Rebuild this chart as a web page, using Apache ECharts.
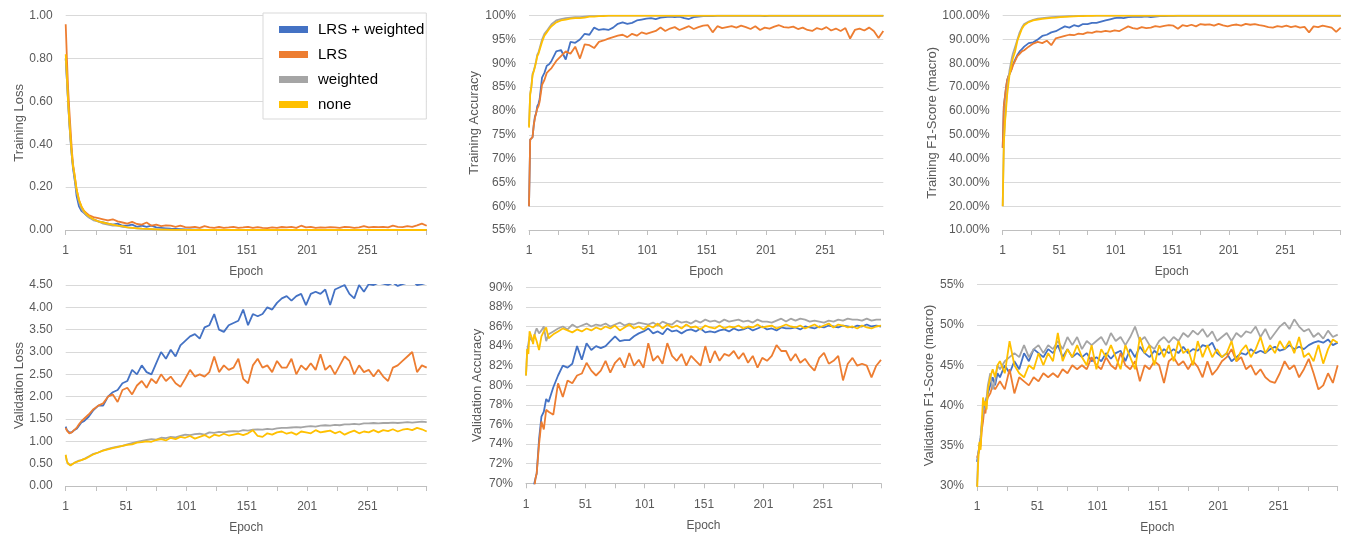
<!DOCTYPE html>
<html><head><meta charset="utf-8">
<script src="https://cdn.jsdelivr.net/npm/echarts@6/dist/echarts.min.js"></script>
<style>html,body{margin:0;padding:0;background:#fff}#c{width:1347px;height:535px}</style>
</head><body><div id="c"></div>
<script>
const epochs = [1,2,3,4,5,6,7,8,9,10,12,14,16,18,20,
 24,28,32,36,40,44,48,52,56,60,
 64,68,72,76,80,84,88,92,96,100,
 104,108,112,116,120,124,128,132,136,140,
 144,148,152,156,160,164,168,172,176,180,
 184,188,192,196,200,204,208,212,216,220,
 224,228,232,236,240,244,248,252,256,260,
 264,268,272,276,280,284,288,292,296,300];

const seriesNames = ['LRS + weighted','LRS','weighted','none'];
const xTickLabels = ['1','51','101','151','201','251'];

// ---- Training Loss ----
const tlLRSW = [0.80,0.70,0.60,0.50,0.42,0.35,0.29,0.25,0.21,0.16,0.11,0.09,0.08,0.07,0.06,
 0.05,0.04,0.035,0.03,0.025,0.03,0.02,0.02,0.025,0.015,
 0.02,0.015,0.02,0.012,0.01,0.008,0.006,0.005,0.004,0.003,
 0.003,0.002,0.002,0.001,0.001,0.001,0.001,0,0,0,
 0,0,0,0,0,0,0,0,0,0, 0,0,0,0,0,0,0,0,0,0, 0,0,0,0,0,0,0,0,0,0, 0,0,0,0,0,0,0,0,0,0];
const tlLRS = [0.96,0.80,0.66,0.56,0.47,0.38,0.31,0.27,0.23,0.19,0.14,0.11,0.09,0.08,0.07,
 0.060,0.055,0.050,0.045,0.050,0.040,0.035,0.030,0.038,0.028,
 0.025,0.035,0.020,0.025,0.018,0.022,0.020,0.015,0.020,0.013,
 0.012,0.015,0.010,0.018,0.012,0.010,0.014,0.010,0.012,0.015,
 0.010,0.012,0.015,0.010,0.013,0.010,0.009,0.012,0.010,0.014,
 0.012,0.015,0.010,0.020,0.012,0.015,0.010,0.012,0.011,0.013,
 0.012,0.010,0.015,0.013,0.010,0.012,0.018,0.012,0.015,0.013,
 0.015,0.012,0.020,0.015,0.013,0.018,0.015,0.022,0.030,0.020];
const tlW = [0.80,0.70,0.59,0.50,0.42,0.35,0.30,0.26,0.22,0.18,0.13,0.10,0.08,0.07,0.06,
 0.045,0.04,0.03,0.025,0.02,0.02,0.015,0.012,0.01,0.008,
 0.006,0.005,0.004,0.003,0.003,0.002,0.002,0.001,0.001,0.001,
 0,0,0,0,0,0,0,0,0,0, 0,0,0,0,0,0,0,0,0,0, 0,0,0,0,0,0,0,0,0,0, 0,0,0,0,0,0,0,0,0,0, 0,0,0,0,0,0,0,0,0,0];
const tlNone = [0.82,0.72,0.60,0.51,0.43,0.36,0.30,0.27,0.23,0.19,0.14,0.11,0.09,0.075,0.065,
 0.05,0.04,0.035,0.03,0.025,0.02,0.018,0.012,0.01,0.008,
 0.006,0.005,0.004,0.003,0.002,0.002,0.001,0.001,0.001,0.001,
 0,0,0,0,0,0,0,0,0,0, 0,0,0,0,0,0,0,0,0,0, 0,0,0,0,0,0,0,0,0,0, 0,0,0,0,0,0,0,0,0,0, 0,0,0,0,0,0,0,0,0,0];

// ---- Training Accuracy (%) ----
const taLRSW = [60,74,73.8,74.5,77,78.8,79.5,81,81.5,82.5,87,88,89.5,89.8,90.5,
 92.5,92.8,90.8,94.5,94.3,95,96.2,96,97.5,97,
 97.2,97,97.5,98.3,98.6,98.3,98.5,99,99.2,99.4,
 99.5,99.3,99.6,99.7,99.8,99.7,99.8,99.5,99.3,99.7,
 99.8,99.9,99.9,99.9,100,100,100,100,100,100,
 100,100,100,100,99.9,100,100,100,100,100,
 100,100,100,100,100,100,100,100,100,100,
 100,100,100,100,100,100,100,100,100,100];
const taLRS = [60,74,73.8,74.5,77,78.5,79.5,80.5,81,82,85.5,86.5,88,88.5,89,
 90.5,91.5,92.5,92,93.5,91,94,93.8,93.2,94.5,
 94.8,95.2,95.5,95.8,96,95.5,96.2,95.8,96.5,96.2,
 96.5,96.8,97.5,96.8,97.3,97.6,97,97.4,97.8,97.2,
 97.6,97.9,98,96.5,97.8,97.4,97.6,97.8,97.5,97.9,
 97.6,97.2,97.8,97.0,97.5,97.3,97.7,98.0,97.6,97.5,
 97.7,97.2,97.5,97.0,96.8,97.4,97.1,97.6,96.9,97.3,
 96.8,97.4,95.2,97.0,97.3,96.9,97.5,96.8,95.3,96.8];
const taW = [76.8,83.6,85.2,87.8,88.5,89.4,90.5,91.8,92.3,92.6,95,96.2,96.8,97.5,98.2,
 99,99.3,99.5,99.6,99.7,99.7,99.8,99.9,99.9,99.9,
 100,100,100,100,100,100,100,100,100,100, 100,100,100,100,100,100,100,100,100,100,
 100,100,100,100,100,100,100,100,100,100, 100,100,100,100,100,100,100,100,100,100,
 100,100,100,100,100,100,100,100,100,100, 100,100,100,100,100,100,100,100,100,100];
const taNone = [76.5,83.5,85,87.5,88.3,89.2,90.3,91.5,92,92.3,94.5,95.8,96.5,97.2,97.8,
 98.6,99,99.2,99.4,99.5,99.5,99.6,99.8,99.8,99.9,
 99.9,100,100,100,100,100,100,100,100,100, 100,100,100,100,100,100,100,100,100,100,
 100,100,100,100,100,100,100,100,100,100, 100,100,100,100,100,100,100,100,100,100,
 100,100,100,100,100,100,100,100,100,100, 100,100,100,100,100,100,100,100,100,100];

// ---- Training F1 (macro, %) ----
const tfLRSW = [44.5,62,66,70,73,74.5,75.5,76.5,78,79.5,81.5,83.5,85,86,87,
 88.5,88.8,90,91.5,92,93,93.5,94.5,95.5,95,
 96,95.5,96.5,96.5,97,97,97.5,98,98.5,99,
 99.2,99,99.4,99.5,99.6,99.5,99.7,99.4,99.6,99.8,
 99.8,99.9,99.9,100,100,100,100,100,100,100,
 100,100,100,100,100,100,100,100,100,100, 100,100,100,100,100,100,100,100,100,100,
 100,100,100,100,100,100,100,100,100,100];
const tfLRS = [44.5,62,66,70,73,74.5,75.5,76.5,77.5,79,81,83,84,85,85.5,
 87,88.3,89,88.5,89.5,87.6,90.5,91,91.5,92,
 91.8,92.5,92.3,93,92.8,93.4,93.2,93.6,93.3,93.8,
 93.5,94.5,95.5,94.8,94.5,95.2,94.8,95,95.6,95.3,
 95.7,96,95.8,94.5,96,95.6,96.2,95.5,96.5,96.2,
 96.4,95.8,96.6,95.9,95.5,96,96.3,95.8,96.6,96.2,
 96.5,96,95.7,95.2,95,95.6,95.3,95.8,95.2,95.6,
 95,95.3,93,95.5,95.2,95.8,95.4,95,93.2,95];
const tfW = [20,47,56,63,69,73,77,79.5,82,84,87,90,93,95,96.5,
 97.5,98.3,98.8,99,99.2,99.4,99.5,99.6,99.7,99.8,
 99.8,99.9,100,100,100,100,100,100,100,100, 100,100,100,100,100,100,100,100,100,100,
 100,100,100,100,100,100,100,100,100,100, 100,100,100,100,100,100,100,100,100,100,
 100,100,100,100,100,100,100,100,100,100, 100,100,100,100,100,100,100,100,100,100];
const tfNone = [20,46,55,61,67,71,75,77.5,80,82,85,89.5,92,94.5,96,
 97.3,98,98.4,98.7,98.9,99.1,99.2,99.4,99.5,99.6,
 99.7,99.8,99.8,99.9,99.9,100,100,100,100,100, 100,100,100,100,100,100,100,100,100,100,
 100,100,100,100,100,100,100,100,100,100, 100,100,100,100,100,100,100,100,100,100,
 100,100,100,100,100,100,100,100,100,100, 100,100,100,100,100,100,100,100,100,100];

// ---- Validation Loss ----
const vlLRSW = [1.33,1.25,1.22,1.2,1.17,1.2,1.22,1.25,1.27,1.28,1.35,1.42,1.45,1.5,1.55,
 1.7,1.8,1.8,2.0,2.1,2.15,2.3,2.35,2.6,2.5,
 2.7,2.55,2.5,2.75,3.0,2.85,3.05,2.9,3.15,3.25,
 3.35,3.4,3.3,3.55,3.6,3.85,3.5,3.45,3.6,3.65,
 3.7,3.95,3.6,3.85,3.8,3.85,4.0,3.95,4.1,4.2,
 4.25,4.15,4.25,4.3,4.05,4.3,4.35,4.3,4.4,4.05,
 4.4,4.45,4.5,4.3,4.2,4.5,4.35,4.52,4.5,4.55,
 4.53,4.5,4.55,4.48,4.52,4.55,4.6,4.5,4.52,4.55];
const vlLRS = [1.3,1.24,1.2,1.18,1.17,1.2,1.22,1.25,1.28,1.3,1.38,1.45,1.5,1.55,1.6,
 1.72,1.8,1.85,2.0,2.05,1.88,2.15,2.2,2.05,2.25,
 2.35,2.2,2.4,2.3,2.5,2.35,2.45,2.3,2.22,2.4,
 2.6,2.45,2.5,2.45,2.55,2.9,2.55,2.7,2.6,2.65,
 2.85,2.4,2.3,2.7,2.85,2.65,2.7,2.55,2.8,2.65,
 2.65,2.85,2.5,2.7,2.6,2.75,2.6,2.95,2.6,2.7,
 2.5,2.7,2.9,2.8,2.5,2.7,2.55,2.6,2.45,2.6,
 2.45,2.35,2.65,2.7,2.8,2.9,3.0,2.55,2.7,2.65];
const vlW = [0.68,0.55,0.5,0.48,0.47,0.48,0.5,0.52,0.53,0.55,0.57,0.58,0.6,0.63,0.66,
 0.72,0.75,0.8,0.83,0.86,0.88,0.9,0.93,0.96,0.99,
 1.01,1.03,1.05,1.04,1.08,1.07,1.1,1.09,1.12,1.15,
 1.14,1.16,1.17,1.15,1.2,1.19,1.21,1.2,1.22,1.23,
 1.22,1.25,1.24,1.26,1.27,1.26,1.28,1.27,1.29,1.3,
 1.3,1.31,1.32,1.31,1.33,1.34,1.33,1.35,1.36,1.35,
 1.37,1.36,1.38,1.38,1.39,1.38,1.4,1.4,1.41,1.4,
 1.41,1.41,1.42,1.41,1.42,1.43,1.42,1.43,1.44,1.43];
const vlNone = [0.7,0.55,0.5,0.47,0.46,0.48,0.5,0.51,0.53,0.55,0.56,0.58,0.6,0.62,0.65,
 0.71,0.75,0.79,0.82,0.85,0.87,0.9,0.92,0.93,0.97,
 0.98,1.0,0.99,1.03,1.05,1.02,1.08,1.05,1.1,1.08,
 1.12,1.06,1.1,1.14,1.08,1.15,1.12,1.17,1.13,1.15,
 1.17,1.14,1.18,1.25,1.12,1.1,1.18,1.15,1.2,1.22,
 1.17,1.2,1.15,1.22,1.2,1.18,1.25,1.2,1.22,1.24,
 1.18,1.22,1.15,1.2,1.24,1.18,1.22,1.2,1.25,1.2,
 1.25,1.23,1.27,1.22,1.26,1.28,1.25,1.3,1.27,1.22];

// ---- Validation Accuracy (%) ----
const vaLRSW = [66,66.5,67,67.5,68,68.5,69,70,70.5,71,74.5,76.8,77.3,78.6,78.3,
 79.8,81,82,81.8,82.2,84,82.6,84.3,83.6,84,
 83.8,84,84.5,85,84.5,84.6,84.6,85,85.3,85.5,
 85.8,85.3,85.5,85.2,85.8,85.5,85.6,85.3,85.6,85.7,
 85.5,85.8,85.4,85.5,85.4,85.6,85.7,85.5,85.8,85.6,
 85.7,85.9,85.6,85.8,86,85.7,85.8,85.6,85.9,85.8,
 85.8,85.9,85.7,86,85.9,85.8,86,85.9,86.1,86,
 85.9,86.1,86,85.9,86.1,86,86.2,86,86.1,86];
const vaLRS = [65,65.5,66,66.5,67,67.5,68.5,69.5,70.5,71,74,76.3,75.5,77.5,77.3,
 77,80.2,78.8,80.5,80.2,81,81.2,82.3,81.5,81,
 81.5,82.5,81.3,82.3,82.8,81.8,83.3,82,82.6,81.8,
 84.3,82.5,83,82.2,84.3,83,82.5,83.2,82,83,
 82.5,82,84,82.3,83.5,82.5,83.2,83,83.5,82.7,
 83.3,82.3,83,81.8,82.8,82.5,83,84.1,83.5,83.5,
 82.5,83.2,82.3,82.7,82,81.5,82.8,83.3,82.2,82.5,
 83,80.5,82.2,82.8,82,82.2,82,80.8,82,82.6];
const vaW = [81,83.5,83.5,85,85.2,84.5,84.5,85,85.5,85.8,85.3,85.6,86,84.5,85.2,
 85.5,85.8,86,85.7,86.2,85.9,86.1,86.3,86,86.2,
 86.1,86.3,86,86.2,86.4,86.1,86.3,86.2,86.4,86.3,
 86.2,86.4,86.1,86.5,86.3,86.2,86.6,86.4,86.5,86.3,
 86.6,86.4,86.7,86.5,86.6,86.4,86.7,86.5,86.6,86.7,
 86.5,86.6,86.4,86.7,86.5,86.5,86.4,86.6,86.8,86.5,
 86.8,86.6,86.8,86.7,86.5,86.6,86.5,86.4,86.6,86.5,
 86.7,86.6,86.8,86.7,86.7,86.6,86.8,86.6,86.7,86.7];
const vaNone = [81,83.7,83.2,85.5,85.3,84.8,84.2,85.2,85,84.5,83.6,85,85.5,85.9,84.8,
 85.2,85.5,85.8,85.6,85.4,85.7,85.5,85.8,85.6,85.9,
 85.7,86,85.8,86.1,85.6,85.9,86.2,85.8,86,85.7,
 86.1,85.9,86.3,85.8,86.2,85.9,86.1,85.8,86.2,85.9,
 86,85.7,86.1,85.9,85.8,86.1,85.8,86,85.9,86.1,
 85.8,86,85.9,86.2,85.9,86,86.1,85.8,86,86.2,
 86,85.9,86.1,85.8,86,86.2,85.9,86.1,86.3,85.9,
 86.2,86.1,85.9,86,85.8,86.1,85.9,85.8,86,86.1];

// ---- Validation F1 (macro, %) ----
const vfLRSW = [33,34,35,36,37.5,39,40,40.5,41,41.5,42.5,43.5,42.5,44,43.5,
 45,44,45.5,44.5,46.5,45.5,47,46.5,46,47,
 46.5,47.5,46,47,46,46.5,46,46.5,45.5,46,
 45.5,46.5,45.8,46.5,46.8,45.5,47,46,47.3,46.5,
 46,46.8,46.3,47,46.5,47,46.5,47.3,46.5,47,
 46.8,47.5,47.3,47.8,46.5,46,46.5,45.5,46,46.5,
 46.3,47,46.5,46.8,46.5,47,47.3,46.8,47,47.5,
 47,47.3,47,47.5,47.8,48,47.8,48.2,47.5,47.8];
const vfLRS = [33.5,34,34.5,35,37,38,39.5,39,40.5,41,41.5,42.5,42,42.5,43,
 42,44.5,41.5,43.5,43,42.5,43.5,43,44,43.5,
 44,43.5,44.5,44,45,44.5,45,44.5,46,45,
 44.5,46,45,44.5,46.5,45,44.5,45.5,43,45,
 44.5,45.5,45,42.8,45.5,46,45,45.5,44.5,45.5,
 44.8,43.5,45.5,43.8,44.5,45.5,46,47,45.5,46,
 44.5,45,43.8,44.5,43.5,43,42.8,44,45.5,44.5,
 45,43.5,44.5,45.8,44,42,42.5,44,42.8,45];
const vfW = [30,34,35,36,38,39,40.5,40,41,42.5,44,42,43,45,44.5,
 45.5,46,46.5,46,47.5,46,47,47.5,46.5,47.5,
 47,48,47,48.5,47.5,48.5,47,48,47.5,48,
 48.5,47.5,49,48,48.5,47.5,48.5,49.8,48,48.5,
 47.5,47,48,48.5,47.8,48.5,48,49,48.5,49.3,
 48.8,49.5,48.5,49.2,48,48.5,49,48,49,48.5,
 49.2,49,49.8,48.5,49.5,48.2,49,49.8,50.3,49.5,
 50.7,49.8,49.2,49.5,48.5,49,48.3,49.3,48.5,48.8];
const vfNone = [29,33,35.5,34.5,38,41,40,40.5,39.5,42,43.5,44.5,43.5,45,45.5,
 44,48,45,44,43.5,45,44.5,46.5,45,46.5,
 45.5,49,45.5,47,46,47.5,46,45,47.5,44.5,
 47,46,47.5,46,44.5,47.5,46,44.5,48.5,46.5,
 47.5,45,47.5,46,47.5,45.5,48,46.5,47,45,
 48,46,47.5,46,47,46,46.5,48,45.5,46.8,
 47.5,46,47,48.5,46.5,47.5,46.5,48,47,48,
 46.5,48.5,46,46.5,45.5,47.5,45.2,47,48.2,47.8];

const colors = ['#4472C4','#ED7D31','#A5A5A5','#FFC000'];
const FONT = '"Liberation Sans", Arial, sans-serif';

const panels = [
  {rect:[65.7,15.7,361,214.3], name:'Training Loss', min:0, max:1, step:0.2, fmt:v=>v.toFixed(2), gap:37, data:[tlLRSW,tlLRS,tlW,tlNone]},
  {rect:[529,15.7,354.3,214.3], name:'Training Accuracy', min:55, max:100, step:5, fmt:v=>v+'%', gap:42, data:[taLRSW,taLRS,taW,taNone]},
  {rect:[1002.7,15.7,338,214.3], name:'Training F1-Score (macro)', min:10, max:100, step:10, fmt:v=>v.toFixed(2)+'%', gap:59, data:[tfLRSW,tfLRS,tfW,tfNone]},
  {rect:[65.7,285,361,202.3], name:'Validation Loss', min:0, max:4.5, step:0.5, fmt:v=>v.toFixed(2), gap:37, data:[vlLRSW,vlLRS,vlW,vlNone]},
  {rect:[526,287.3,355,196], name:'Validation Accuracy', min:70, max:90, step:2, fmt:v=>v+'%', gap:42, data:[vaLRSW,vaLRS,vaW,vaNone]},
  {rect:[977,284.7,360.7,203], name:'Validation F1-Score (macro)', min:30, max:55, step:5, fmt:v=>v+'%', gap:37, data:[vfLRSW,vfLRS,vfW,vfNone]}
];

const grid=[], xAxis=[], yAxis=[], series=[];
panels.forEach((p,i)=>{
  grid.push({left:p.rect[0], top:p.rect[1], width:p.rect[2], height:p.rect[3], containLabel:false});
  xAxis.push({type:'value', gridIndex:i, min:0, max:299, interval:25,
    name:'Epoch', nameLocation:'middle', nameGap:36,
    nameTextStyle:{color:'#595959', fontSize:12, fontFamily:FONT},
    axisLine:{show:true, lineStyle:{color:'#bfbfbf', width:1}},
    axisTick:{show:true, length:5, lineStyle:{color:'#bfbfbf'}},
    splitLine:{show:false},
    axisLabel:{color:'#595959', fontSize:12, fontFamily:FONT, margin:15,
      formatter:v=> (v%50===0 && v/50 < xTickLabels.length) ? xTickLabels[v/50] : ''}
  });
  yAxis.push({type:'value', gridIndex:i, min:p.min, max:p.max, interval:p.step,
    name:p.name, nameLocation:'middle', nameGap:p.gap,
    nameTextStyle:{color:'#595959', fontSize:13, fontFamily:FONT},
    axisLine:{show:false}, axisTick:{show:false},
    splitLine:{show:true, lineStyle:{color:'#d9d9d9', width:1}},
    axisLabel:{color:'#595959', fontSize:12, fontFamily:FONT, margin:13, formatter:p.fmt}
  });
  p.data.forEach((vals,k)=>{
    series.push({type:'line', name:seriesNames[k], xAxisIndex:i, yAxisIndex:i,
      data: epochs.map((e,j)=>[e-1, vals[j]]),
      symbol:'none', clip:true,
      lineStyle:{color:colors[k], width:1.8}, itemStyle:{color:colors[k]},
      z:2+k, animation:false});
  });
});

const chart = echarts.init(document.getElementById('c'), null, {renderer:'canvas'});
chart.setOption({
  animation:false,
  backgroundColor:'#ffffff',
  grid, xAxis, yAxis, series,
  legend:{data:seriesNames, orient:'vertical', left:263, top:13,
    padding:[9,2,7,16], itemGap:10, itemWidth:29, itemHeight:7, icon:'rect',
    backgroundColor:'#ffffff', borderColor:'#d9d9d9', borderWidth:1,
    textStyle:{color:'#000000', fontSize:15, fontFamily:FONT, padding:[0,0,0,5]}, z:20}
});
</script>
</body></html>
